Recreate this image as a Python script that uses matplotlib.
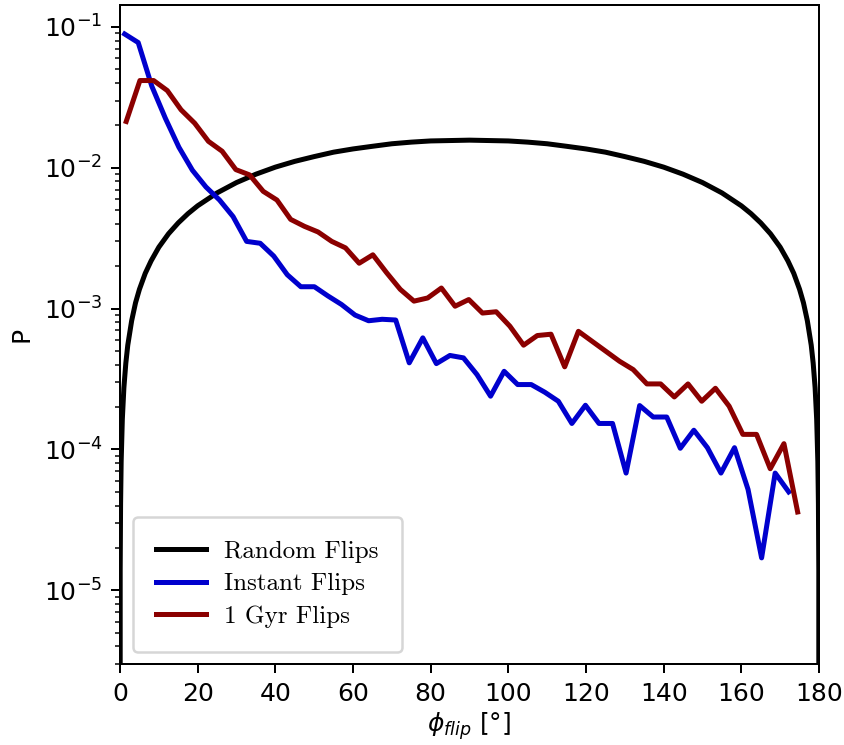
# Distribution of flip angles: random vs. simulated flips
import numpy as np
import matplotlib
matplotlib.use("Agg")
import matplotlib.pyplot as plt

# Random flips
phi_random = [0, 0.05, 0.15, 0.3, 0.6, 1, 1.5, 2, 3, 4, 5, 6.5, 8, 10, 12.5, 15, 17.5,
              20, 25, 30, 35, 40, 45, 50, 55, 60, 65, 70, 75, 80, 85, 90,
              95, 100, 105, 110, 115, 120, 125, 130, 135, 140, 145, 150, 155, 160,
              162.5, 165, 167.5, 170, 172, 173.5, 175, 176, 177, 178, 178.5, 179,
              179.4, 179.7, 179.85, 179.95, 180]
p_random = [0, 1.4e-5, 4.1e-5, 8.2e-5, 1.64e-4, 2.74e-4, 4.1e-4, 5.5e-4, 8.2e-4, 1.10e-3,
            1.37e-3, 1.78e-3, 2.18e-3, 2.73e-3, 3.40e-3, 4.06e-3, 4.72e-3,
            5.37e-3, 6.63e-3, 7.85e-3, 9.0e-3, 1.01e-2, 1.11e-2, 1.20e-2, 1.29e-2, 1.36e-2,
            1.42e-2, 1.48e-2, 1.52e-2, 1.55e-2, 1.56e-2, 1.57e-2,
            1.56e-2, 1.55e-2, 1.52e-2, 1.48e-2, 1.42e-2, 1.36e-2, 1.29e-2, 1.20e-2, 1.11e-2,
            1.01e-2, 9.0e-3, 7.85e-3, 6.63e-3, 5.37e-3,
            4.72e-3, 4.06e-3, 3.40e-3, 2.73e-3, 2.18e-3, 1.78e-3, 1.37e-3, 1.10e-3, 8.2e-4,
            5.5e-4, 4.1e-4, 2.74e-4, 1.64e-4, 8.2e-5, 4.1e-5, 1.4e-5, 0]

# Instant flips (bin centres)
phi_instant = np.linspace(1.2, 172.2, 50)
p_instant = [0.089, 0.0774, 0.038, 0.0225, 0.0140, 0.0096, 0.0073, 0.0059, 0.0045, 0.0030,
             0.00291, 0.00236, 0.00174, 0.00143, 0.00143, 0.00123, 0.00107, 0.00090, 0.00082, 0.00084,
             0.00083, 0.000412, 0.00062, 0.000407, 0.000465, 0.000447, 0.00034, 0.000239, 0.000359, 0.000289,
             0.000289, 0.000255, 0.00022, 0.000153, 0.000206, 0.000153, 0.000153, 6.8e-5, 0.000205, 0.00017,
             0.00017, 0.000102, 0.000137, 0.000103, 6.8e-5, 0.000103, 5.2e-5, 1.7e-5, 6.8e-5, 5.0e-5]

# 1 Gyr flips (bin centres)
phi_gyr = np.linspace(1.6, 174.5, 50)
p_gyr = [0.0213, 0.0416, 0.0416, 0.0353, 0.0258, 0.0207, 0.0154, 0.0131, 0.0097, 0.0089,
         0.0068, 0.0059, 0.0043, 0.00384, 0.0035, 0.0030, 0.0027, 0.0021, 0.00241, 0.0018,
         0.00137, 0.00113, 0.00119, 0.0014, 0.00104, 0.00116, 0.00093, 0.00095, 0.00075, 0.00055,
         0.000644, 0.000658, 0.000386, 0.00069, 0.000586, 0.000498, 0.000423, 0.000369, 0.000292, 0.000292,
         0.000236, 0.000292, 0.00022, 0.000272, 0.000203, 0.000128, 0.000128, 7.3e-5, 0.00011, 3.6e-5]

dpi = 180
fig = plt.figure(figsize=(844 / dpi, 745 / dpi), dpi=dpi)
ax = fig.add_axes([120 / 844, 81 / 745, 699 / 844, 659 / 745])

ax.plot(phi_random, p_random, color="black", lw=2, label="Random Flips")
ax.plot(phi_instant, p_instant, color="#0000cd", lw=2, label="Instant Flips")
ax.plot(phi_gyr, p_gyr, color="#8b0000", lw=2, label="1 Gyr Flips")

ax.set_yscale("log")
ax.set_xlim(0, 180)
ax.set_ylim(3.0e-6, 0.143)
ax.set_xticks(np.arange(0, 181, 20))
ax.set_xlabel(r"$\phi_{flip}$ [°]", labelpad=2)
ax.set_ylabel("P")

ax.legend(loc="lower left", prop={"family": "cmr10", "size": 10},
          borderpad=0.95, labelspacing=0.4, handletextpad=0.7)

plt.savefig("out.png", dpi=dpi)
plt.close()
